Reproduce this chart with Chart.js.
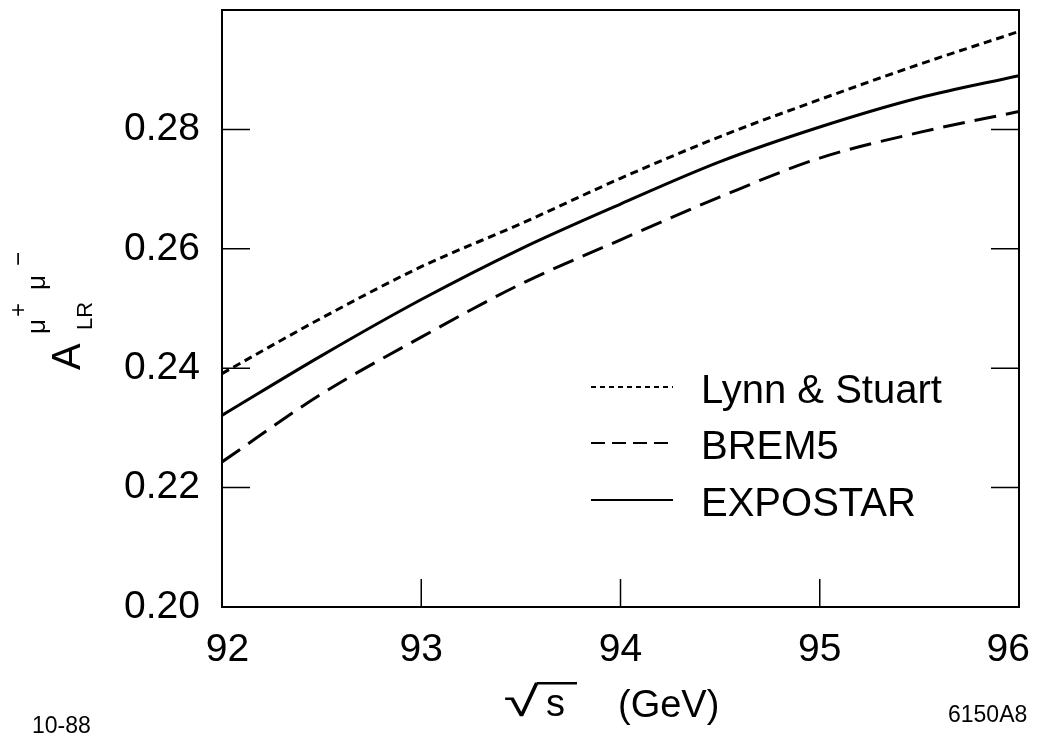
<!DOCTYPE html>
<html>
<head>
<meta charset="utf-8">
<script src="https://cdn.jsdelivr.net/npm/chart.js@4.4.1/dist/chart.umd.min.js"></script>
<style>
  html, body { margin: 0; padding: 0; background: #fff; }
</style>
</head>
<body>
<canvas id="chart" width="1038" height="739"></canvas>
<script>
// sqrt(s) in GeV
const energies = [92, 92.5, 93, 93.5, 94, 94.5, 95, 95.5, 96];
// A_LR for mu+ mu-
const lynnStuart = [0.2391, 0.2484, 0.2570, 0.2642, 0.2718, 0.2788, 0.2850, 0.2909, 0.2964];
const brem5 = [0.2243, 0.2357, 0.2452, 0.2541, 0.2615, 0.2687, 0.2752, 0.2795, 0.2830];
const expostar = [0.2321, 0.2421, 0.2515, 0.2600, 0.2675, 0.2746, 0.2804, 0.2853, 0.2890];

const xTicks = [92, 93, 94, 95, 96];
const yTicks = [0.20, 0.22, 0.24, 0.26, 0.28];

const FONT = "'Liberation Sans', Arial, Helvetica, sans-serif";

function toPoints(ys) {
    return energies.map((e, i) => ({ x: e, y: ys[i] }));
}

// frame, inward ticks, legend and the extra captions
const decorPlugin = {
    id: 'decor',
    afterDatasetsDraw(chart) {
        const { ctx, chartArea: a, scales: { x, y } } = chart;
        ctx.save();
        ctx.strokeStyle = '#000';
        ctx.fillStyle = '#000';

        ctx.lineWidth = 2;
        ctx.strokeRect(a.left, a.top, a.right - a.left, a.bottom - a.top);

        ctx.lineWidth = 1.5;
        ctx.beginPath();
        yTicks.forEach(v => {
            const py = y.getPixelForValue(v);
            ctx.moveTo(a.left, py); ctx.lineTo(a.left + 28, py);
            ctx.moveTo(a.right, py); ctx.lineTo(a.right - 28, py);
        });
        xTicks.forEach(v => {
            const px = x.getPixelForValue(v);
            ctx.moveTo(px, a.bottom); ctx.lineTo(px, a.bottom - 28);
        });
        ctx.stroke();

        // legend
        const legendDash = [[5, 4], [14, 7], []];
        const rowY = [387, 443, 500];
        chart.data.datasets.forEach((ds, i) => {
            ctx.lineWidth = 2;
            ctx.setLineDash(legendDash[i]);
            ctx.beginPath();
            ctx.moveTo(591, rowY[i]);
            ctx.lineTo(673, rowY[i]);
            ctx.stroke();
            ctx.setLineDash([]);
            ctx.font = '40px ' + FONT;
            ctx.textAlign = 'left';
            ctx.textBaseline = 'alphabetic';
            ctx.fillText(ds.label, 701, rowY[i] + 16);
        });

        // y axis title  A_LR^{mu+ mu-}
        ctx.save();
        ctx.translate(80, 370);
        ctx.rotate(-Math.PI / 2);
        ctx.textAlign = 'left';
        ctx.textBaseline = 'alphabetic';
        ctx.font = '40px ' + FONT;
        ctx.fillText('A', 0, 0);
        ctx.font = '22px ' + FONT;
        ctx.fillText('LR', 40, 12);
        ctx.font = '26px ' + FONT;
        ctx.fillText('μ', 36, -35);
        ctx.fillText('μ', 80, -35);
        ctx.font = '24px ' + FONT;
        ctx.fillText('+', 53, -54);
        ctx.fillText('−', 104, -54);
        ctx.restore();

        // x axis title  sqrt(s)  (GeV)
        ctx.font = '40px ' + FONT;
        const rad = ctx.measureText('√');
        const gw = rad.actualBoundingBoxLeft + rad.actualBoundingBoxRight;
        const gh = rad.actualBoundingBoxAscent + rad.actualBoundingBoxDescent;
        const rx0 = 505, rx1 = 539, ry0 = 682, ry1 = 717;
        ctx.save();
        ctx.translate(rx0, ry0);
        ctx.scale((rx1 - rx0) / gw, (ry1 - ry0) / gh);
        ctx.fillText('√', rad.actualBoundingBoxLeft, rad.actualBoundingBoxAscent);
        ctx.restore();
        ctx.lineWidth = 2.5;
        ctx.beginPath();
        ctx.moveTo(rx1 - 2, ry0 + 1.2);
        ctx.lineTo(577, ry0 + 1.2);
        ctx.stroke();
        ctx.font = '38px ' + FONT;
        ctx.fillText('s', 546, 716);
        ctx.fillText('(GeV)', 618, 717);

        ctx.font = '23px ' + FONT;
        ctx.fillText('10-88', 32, 733);
        ctx.fillText('6150A8', 948, 722);
        ctx.restore();
    }
};

const lineBase = {
    borderColor: '#000',
    borderWidth: 3,
    pointRadius: 0,
    fill: false,
    cubicInterpolationMode: 'monotone'
};

new Chart(document.getElementById('chart'), {
    type: 'line',
    data: {
        datasets: [
            Object.assign({ label: 'Lynn & Stuart', data: toPoints(lynnStuart), borderDash: [8, 5] }, lineBase),
            Object.assign({ label: 'BREM5', data: toPoints(brem5), borderDash: [22, 10] }, lineBase),
            Object.assign({ label: 'EXPOSTAR', data: toPoints(expostar) }, lineBase)
        ]
    },
    options: {
        responsive: false,
        animation: false,
        layout: { padding: { left: 0, right: 19, top: 10, bottom: 0 } },
        plugins: { legend: { display: false }, tooltip: { enabled: false } },
        scales: {
            x: {
                type: 'linear',
                min: 92,
                max: 96,
                afterBuildTicks: s => { s.ticks = xTicks.map(v => ({ value: v })); },
                afterFit: s => { s.height = 132; s.paddingLeft = 0; s.paddingRight = 0; },
                grid: { display: false, drawTicks: false },
                border: { display: false },
                ticks: {
                    color: '#000',
                    font: { family: FONT, size: 39 },
                    padding: 20,
                    maxRotation: 0,
                    autoSkip: false,
                    // end labels sit a little inside, as in the original
                    callback: v => v === 92 ? ' 92' : v === 96 ? '96  ' : String(v)
                }
            },
            y: {
                min: 0.20,
                max: 0.30,
                afterBuildTicks: s => { s.ticks = yTicks.map(v => ({ value: v })); },
                afterFit: s => { s.width = 222; s.paddingTop = 0; s.paddingBottom = 0; },
                grid: { display: false, drawTicks: false },
                border: { display: false },
                ticks: {
                    color: '#000',
                    font: { family: FONT, size: 39 },
                    padding: 22,
                    autoSkip: false,
                    callback: v => v.toFixed(2)
                }
            }
        }
    },
    plugins: [decorPlugin]
});
</script>
</body>
</html>
